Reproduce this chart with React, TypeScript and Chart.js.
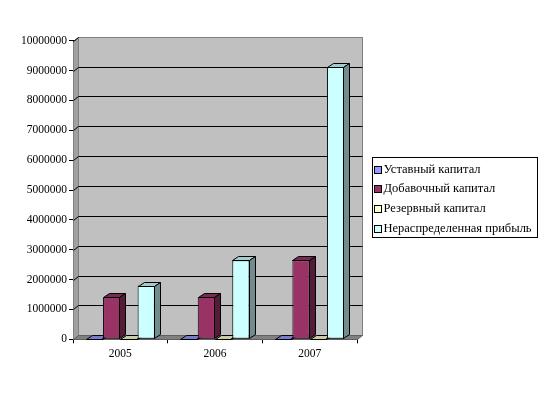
import React, { useEffect, useRef } from "react";
import { Chart, registerables } from "chart.js";

Chart.register(...registerables);

// ---- data ----
const categories = ["2005", "2006", "2007"];
const seriesNames = [
  "Уставный капитал",
  "Добавочный капитал",
  "Резервный капитал",
  "Нераспределенная прибыль",
];
const ustavnyKapital = [10000, 10000, 10000];
const dobavochnyKapital = [1400000, 1420000, 2650000];
const rezervnyKapital = [5000, 5000, 5000];
const neraspredPribyl = [1800000, 2650000, 9130000];
const seriesColors = ["#9999FF", "#993366", "#FFFFCC", "#CCFFFF"];
const yMin = 0;
const yMax = 10000000;
const yStep = 1000000;

const FONT = "'Liberation Serif', 'Times New Roman', serif";
const WALL = { dx: 5, dy: -4 };
const BAR = { dx: 6, dy: -4 };

function shade(hex: string, f: number) {
  const n = parseInt(hex.slice(1), 16);
  const r = Math.round(((n >> 16) & 255) * f);
  const g = Math.round(((n >> 8) & 255) * f);
  const b = Math.round((n & 255) * f);
  return `rgb(${r},${g},${b})`;
}

function poly(ctx: CanvasRenderingContext2D, pts: number[][], fill: string, stroke: string) {
  ctx.beginPath();
  ctx.moveTo(pts[0][0], pts[0][1]);
  for (let i = 1; i < pts.length; i++) ctx.lineTo(pts[i][0], pts[i][1]);
  ctx.closePath();
  ctx.fillStyle = fill;
  ctx.fill();
  ctx.strokeStyle = stroke;
  ctx.lineWidth = 1;
  ctx.stroke();
}

const threeD = {
  id: "threeD",
  beforeDatasetsDraw(chart: any) {
    const { ctx, chartArea: a, scales } = chart;
    const y = scales.y;
    ctx.save();
    const L = Math.round(a.left) + 0.5;
    const R = Math.round(a.right) + 0.5;
    const T = Math.round(a.top) + 0.5;
    const B = Math.round(a.bottom) + 0.5;
    // back wall
    ctx.fillStyle = "#C0C0C0";
    ctx.fillRect(L + WALL.dx, T + WALL.dy, R - L, B - T);
    ctx.strokeStyle = "#808080";
    ctx.lineWidth = 1;
    ctx.strokeRect(L + WALL.dx, T + WALL.dy, R - L, B - T);
    // left wall
    poly(
      ctx,
      [
        [L, T],
        [L + WALL.dx, T + WALL.dy],
        [L + WALL.dx, B + WALL.dy],
        [L, B],
      ],
      "#A0A0A0",
      "#808080"
    );
    // floor
    poly(
      ctx,
      [
        [L, B],
        [L + WALL.dx, B + WALL.dy],
        [R + WALL.dx, B + WALL.dy],
        [R, B],
      ],
      "#808080",
      "#606060"
    );
    // grid lines on the walls
    ctx.strokeStyle = "#000";
    ctx.lineWidth = 1;
    y.ticks.forEach((t: any) => {
      if (t.value === yMin) return;
      const py = Math.round(y.getPixelForValue(t.value)) + 0.5;
      ctx.beginPath();
      ctx.moveTo(L, py);
      ctx.lineTo(L + WALL.dx, py + WALL.dy);
      if (t.value !== yMax) ctx.lineTo(R + WALL.dx, py + WALL.dy);
      ctx.stroke();
    });
    // bars in depth order: front, top, side
    const metas = chart.getSortedVisibleDatasetMetas();
    for (let i = 0; i < categories.length; i++) {
      metas.forEach((meta: any) => {
        const el = meta.data[i];
        if (!el) return;
        el.draw(ctx, a);
        const p = el.getProps(["x", "y", "base", "width"], true);
        const color = seriesColors[meta.index];
        const left = Math.round(p.x - p.width / 2) + 0.5;
        const right = Math.round(p.x + p.width / 2) - 0.5;
        const top = Math.round(Math.min(p.y, p.base)) + 0.5;
        const base = Math.round(Math.max(p.y, p.base)) - 0.5;
        poly(
          ctx,
          [
            [left, top],
            [left + BAR.dx, top + BAR.dy],
            [right + BAR.dx, top + BAR.dy],
            [right, top],
          ],
          shade(color, 0.8),
          "#000"
        );
        poly(
          ctx,
          [
            [right, top],
            [right + BAR.dx, top + BAR.dy],
            [right + BAR.dx, base + BAR.dy],
            [right, base],
          ],
          shade(color, 0.55),
          "#000"
        );
      });
    }
    ctx.restore();
    return false;
  },
};

const boxLegend = {
  id: "boxLegend",
  afterDraw(chart: any) {
    const { ctx, chartArea: a } = chart;
    const bx = Math.round(a.right + 15) + 0.5;
    const by = 157.5;
    const bw = 165;
    const bh = 80;
    const rowH = 19.7;
    ctx.save();
    ctx.fillStyle = "#fff";
    ctx.fillRect(bx, by, bw, bh);
    ctx.strokeStyle = "#000";
    ctx.lineWidth = 1;
    ctx.strokeRect(bx, by, bw, bh);
    ctx.font = `12.5px ${FONT}`;
    ctx.textBaseline = "middle";
    chart.data.datasets.forEach((ds: any, i: number) => {
      const cy = by + 12 + i * rowH;
      const sx = bx + 2;
      ctx.fillStyle = ds.backgroundColor;
      ctx.fillRect(sx, Math.round(cy) - 3.5, 7, 7);
      ctx.strokeRect(sx, Math.round(cy) - 3.5, 7, 7);
      ctx.fillStyle = "#000";
      ctx.fillText(ds.label, sx + 9, cy);
    });
    ctx.restore();
  },
};

export default function App() {
  const ref = useRef<HTMLCanvasElement>(null);
  useEffect(() => {
    if (!ref.current) return;
    const seriesData = [ustavnyKapital, dobavochnyKapital, rezervnyKapital, neraspredPribyl];
    const chart = new Chart(ref.current, {
      type: "bar",
      data: {
        labels: categories,
        datasets: seriesNames.map((name, i) => ({
          label: name,
          data: seriesData[i],
          backgroundColor: seriesColors[i],
          borderColor: "#000",
          borderWidth: 1,
          borderSkipped: false,
          categoryPercentage: 0.73,
          barPercentage: 1.0,
        })),
      },
      options: {
        responsive: false,
        animation: false,
        devicePixelRatio: 1,
        layout: { padding: { left: 0, top: 40.7, right: 189, bottom: 26.7 } },
        plugins: { legend: { display: false }, tooltip: { enabled: false } },
        scales: {
          x: {
            z: 1,
            grid: { drawOnChartArea: false, drawTicks: true, tickLength: 4, color: "#000", offset: true },
            border: { display: true, color: "#000" },
            ticks: { color: "#000", font: { family: FONT, size: 11.5 }, padding: 4, maxRotation: 0 },
            afterFit: (s: any) => {
              s.height = 30;
            },
          },
          y: {
            z: 1,
            min: yMin,
            max: yMax,
            grid: { drawOnChartArea: false, drawTicks: true, tickLength: 4, color: "#000" },
            border: { display: true, color: "#000" },
            ticks: {
              stepSize: yStep,
              color: "#000",
              font: { family: FONT, size: 11.5 },
              padding: 2,
              callback: (v: any) => String(v),
            },
            afterFit: (s: any) => {
              s.width = 73;
            },
          },
        },
      },
      plugins: [threeD, boxLegend],
    });
    return () => chart.destroy();
  }, []);
  return (
    <div style={{ position: "absolute", left: 0, top: 0, width: 546, height: 396, background: "#fff" }}>
      <canvas ref={ref} width={546} height={396} style={{ display: "block" }} />
    </div>
  );
}
